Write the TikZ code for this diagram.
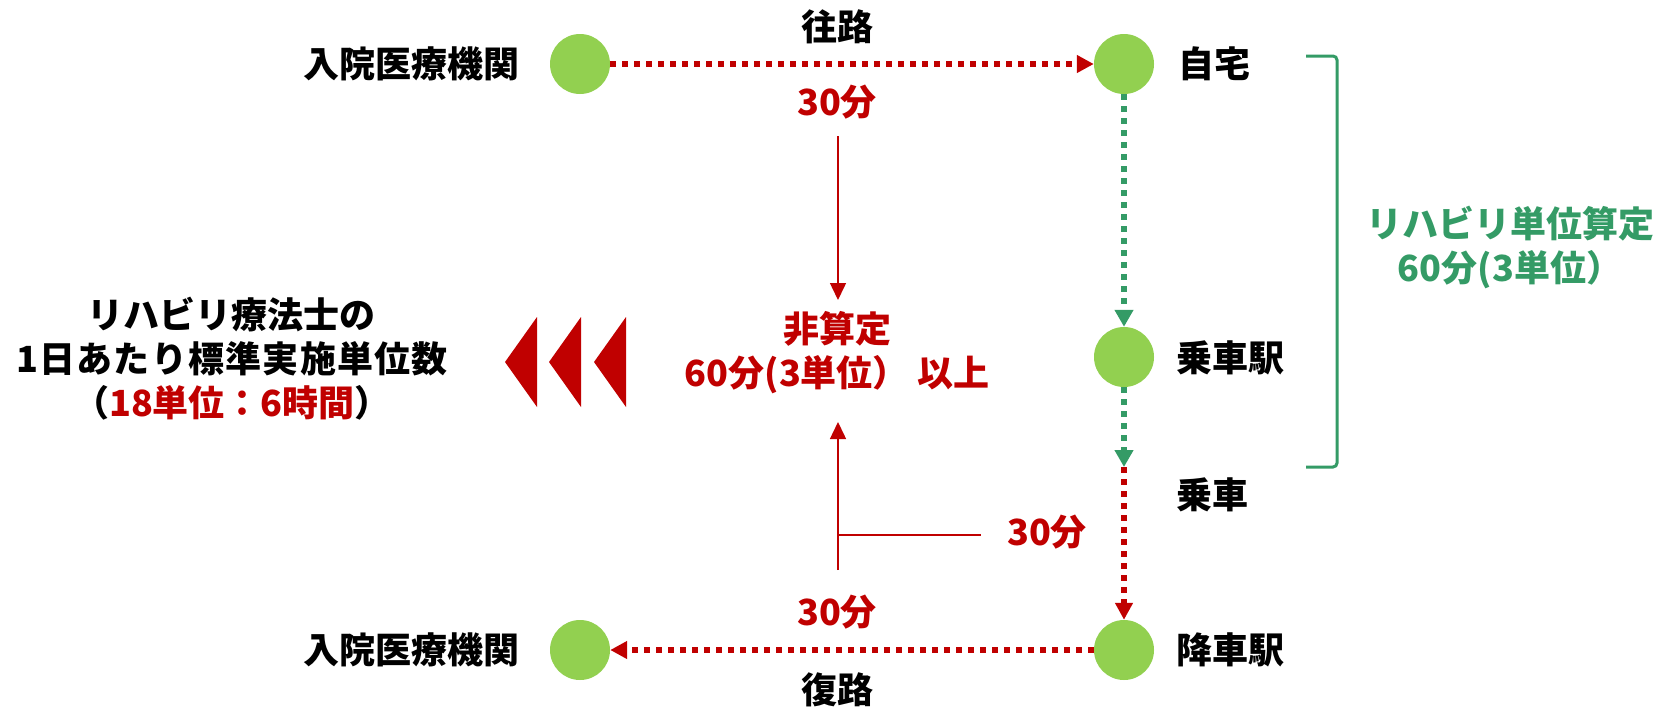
\documentclass[tikz,border=0pt]{standalone}
\usepackage{fontspec}
\setmainfont{Noto Sans CJK JP}
\usetikzlibrary{arrows.meta}
\definecolor{dred}{HTML}{C00000}
\definecolor{dgreen}{HTML}{349B66}
\definecolor{lgreen}{HTML}{92D050}
\tikzset{
  stop/.style={circle, fill=lgreen, draw=none, minimum size=60pt, inner sep=0pt},
  lbl/.style={font=\fontsize{36}{44}\selectfont\bfseries, inner sep=0pt, align=center},
  reddot/.style={draw=dred, line width=6pt, dash pattern=on 6pt off 6pt,
     -{Triangle[length=17pt,width=17pt]}},
  greendot/.style={draw=dgreen, line width=5.5pt, dash pattern=on 6pt off 6pt,
     -{Triangle[length=17pt,width=18pt]}},
  thinarrow/.style={draw=dred, line width=1.5pt, -{Triangle[length=17pt,width=16pt]}},
  thinline/.style={draw=dred, line width=1.5pt},
  chevron/.style={fill=dred, draw=none},
}
\begin{document}
\begin{tikzpicture}[x=1pt,y=-1pt]
\useasboundingbox (0,0) rectangle (1665,710);
% stops
\node[stop] (c1) at (580,64) {};
\node[stop] (c2) at (1124,64) {};
\node[stop] (c3) at (1124,357) {};
\node[stop] (c4) at (1124,650) {};
\node[stop] (c5) at (580,650) {};
\coordinate (board) at (1124,467);
% labels
\node[lbl, anchor=east] (l1) at (520,64) {入院医療機関};
\node[lbl, anchor=east] (l5) at (520,650) {入院医療機関};
\node[lbl, anchor=west] (l2) at (1178,64) {自宅};
\node[lbl, anchor=west] (l3) at (1176,358) {乗車駅};
\node[lbl, anchor=west] (l3b) at (1176,495) {乗車};
\node[lbl, anchor=west] (l4) at (1176,650) {降車駅};
\node[lbl] (go) at (837,27) {往路};
\node[lbl] (back) at (837,690) {復路};
\node[lbl, text=dred] (t1) at (837,102) {30分};
\node[lbl, text=dred] (t2) at (1047,532) {30分};
\node[lbl, text=dred] (t3) at (837,612) {30分};
\node[lbl, text=dred] (mid) at (837,353) {非算定\\60分(3単位） 以上};
\node[lbl, text=dgreen] (rh) at (1510,247) {リハビリ単位算定\\60分(3単位）};
\node[lbl] (std) at (232,359) {リハビリ療法士の\\{\addfontfeature{LetterSpace=3.5}1日あたり標準実施単位数}\\（\textcolor{dred}{18単位：6時間}）};
% route connectors
\draw[reddot] (c1) -- (c2);
\draw[greendot] (c2) -- (c3);
\draw[greendot] (c3) -- (board);
\draw[reddot] (board) -- (c4);
\draw[reddot] (c4) -- (c5);
% thin arrows
\coordinate (a1) at (838,136);
\coordinate (a2) at (838,300);
\coordinate (b1) at (838,570);
\coordinate (b2) at (838,422);
\coordinate (h1) at (838,535);
\coordinate (h2) at (981,535);
\draw[thinarrow] (a1) -- (a2);
\draw[thinarrow] (b1) -- (b2);
\draw[thinline] (h1) -- (h2);
% bracket
\draw[dgreen, line width=3pt, rounded corners=4pt] (1306,56) -- (1337,56) -- (1337,467) -- (1306,467);
% chevrons
\fill[chevron] (505,362) -- (537,317) -- (537,407) -- cycle;
\fill[chevron] (549,362) -- (581,317) -- (581,407) -- cycle;
\fill[chevron] (594,362) -- (626,317) -- (626,407) -- cycle;
\end{tikzpicture}
\end{document}
